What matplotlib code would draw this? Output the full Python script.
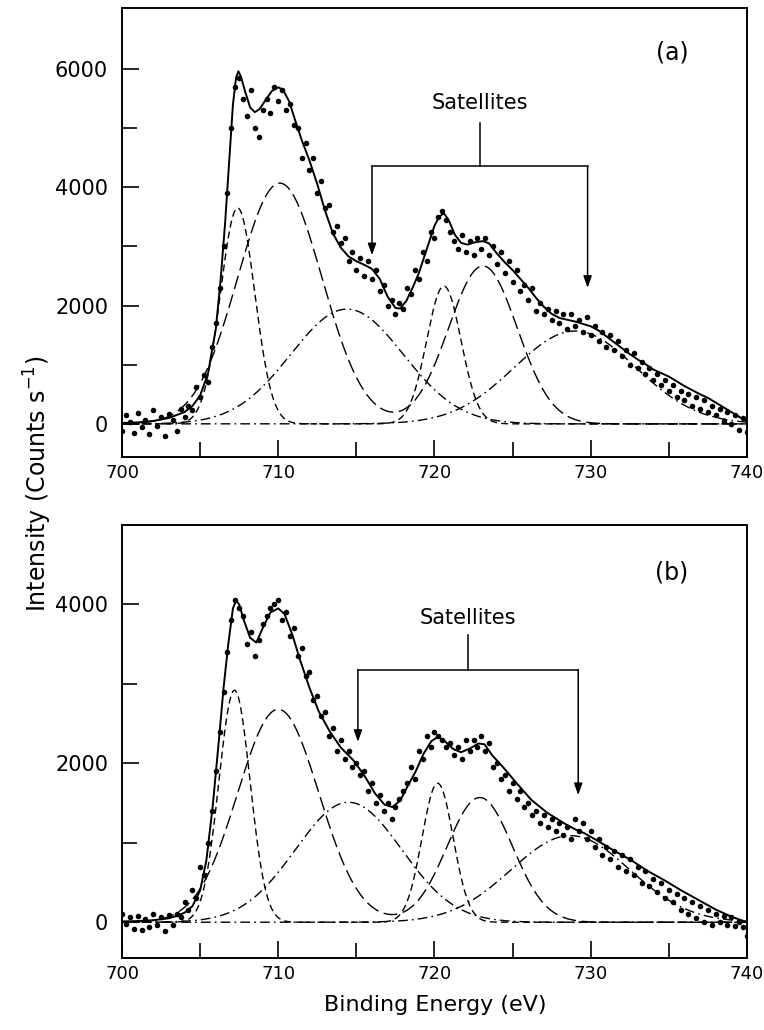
#!/usr/bin/env python
# -*- coding: utf-8 -*-

import numpy as np
import matplotlib
matplotlib.use('Agg')
import matplotlib.pyplot as plt

plt.rcParams['font.family'] = ['DejaVu Sans']

# Measured points: 0.25 eV steps from 700 to 740 eV
E_START, E_STEP = 700.0, 0.25

DOTS_A = [
    -120, 150, 40, -150, 180, -60, 60, -170, 230, -30, 110, -200, 170, 60, -120, 260,
    120, 300, 230, 620, 450, 820, 700, 1300, 1700, 2300, 3000, 3900, 5000, 5700, 5850, 5500,
    5200, 5650, 5000, 4850, 5300, 5500, 5250, 5700, 5450, 5650, 5300, 5400, 5050, 5000, 4500, 4750,
    4300, 4500, 3900, 4100, 3650, 3700, 3250, 3350, 3050, 3150, 2750, 2900, 2600, 2800, 2500, 2750,
    2450, 2600, 2250, 2350, 2000, 2100, 1850, 2050, 1950, 2300, 2200, 2600, 2450, 2900, 2750, 3250,
    3150, 3500, 3600, 3450, 3250, 3100, 2950, 3200, 2900, 3100, 2850, 3150, 2950, 3150, 2850, 3000,
    2700, 2900, 2550, 2750, 2400, 2600, 2250, 2350, 2100, 2300, 1900, 2050, 1850, 1950, 1750, 1900,
    1700, 1850, 1600, 1850, 1650, 1750, 1550, 1800, 1500, 1650, 1400, 1550, 1300, 1500, 1250, 1400,
    1150, 1250, 1000, 1200, 950, 1050, 850, 950, 750, 850, 650, 750, 550, 650, 450, 550,
    400, 500, 300, 450, 250, 400, 200, 300, 150, 250, 50, 200, 0, 150, -100, 100,
    -130,
]

DOTS_B = [
    100, -20, 60, -80, 80, -100, 40, -60, 100, -40, 60, -110, 90, -30, 110, 60,
    250, 150, 400, 300, 700, 600, 1000, 1400, 1900, 2400, 2900, 3400, 3800, 4050, 3950, 3850,
    3500, 3650, 3350, 3550, 3750, 3850, 3950, 4000, 4050, 3800, 3900, 3600, 3700, 3350, 3450, 3100,
    3150, 2800, 2850, 2600, 2650, 2350, 2450, 2150, 2300, 2050, 2150, 1950, 2000, 1850, 1900, 1650,
    1750, 1500, 1600, 1400, 1500, 1300, 1450, 1550, 1650, 1750, 1950, 1800, 2150, 2050, 2350, 2200,
    2400, 2350, 2300, 2200, 2250, 2100, 2200, 2050, 2300, 2150, 2300, 2200, 2350, 2150, 2250, 1950,
    2000, 1800, 1850, 1650, 1750, 1550, 1650, 1450, 1500, 1350, 1400, 1250, 1350, 1200, 1300, 1150,
    1250, 1100, 1200, 1050, 1300, 1150, 1250, 1050, 1150, 950, 1050, 850, 950, 800, 900, 700,
    850, 650, 800, 600, 700, 500, 650, 450, 550, 380, 500, 300, 400, 250, 350, 150,
    300, 100, 250, 50, 200, 0, 150, -30, 100, 0, 80, -40, 60, -50, 0, -60,
    -170,
]

# Fitted envelope (solid line), read at the listed energies
FIT_A_E = [700, 701, 702, 703, 703.5, 704, 704.5, 705, 705.5, 706, 706.3, 706.6, 706.9, 707.1,
           707.3, 707.45, 707.6, 707.9, 708.2, 708.5, 708.8, 709.2, 709.6, 710, 710.3, 710.7,
           711, 711.5, 712, 712.5, 713, 713.5, 714, 714.5, 715, 715.5, 716, 716.5, 717, 717.5,
           717.8, 718.2, 718.6, 719, 719.5, 720, 720.3, 720.6, 720.9, 721.3, 721.7, 722.1, 722.6,
           723.1, 723.5, 724, 724.5, 725, 725.5, 726, 726.5, 727, 727.5, 728, 728.5, 729, 729.5,
           730, 730.5, 731, 731.5, 732, 732.5, 733, 733.5, 734, 734.5, 735, 736, 737, 737.5,
           738, 739, 740]
FIT_A_I = [15, 25, 50, 100, 150, 200, 300, 480, 850, 1600, 2400, 3400, 4600, 5400,
           5850, 5960, 5880, 5600, 5350, 5270, 5320, 5480, 5630, 5690, 5650, 5450,
           5200, 4800, 4450, 4050, 3600, 3220, 2980, 2830, 2750, 2690, 2620, 2450, 2150, 1960,
           1950, 2080, 2300, 2550, 2950, 3350, 3500, 3560, 3450, 3200, 3060, 3030, 3070,
           3090, 3050, 2880, 2730, 2600, 2450, 2300, 2130, 1980, 1860, 1790, 1760, 1730, 1690,
           1650, 1580, 1480, 1380, 1280, 1180, 1090, 1010, 920, 860, 800, 640, 500, 440,
           360, 200, 40]

FIT_B_E = [700, 701, 702, 703, 703.5, 704, 704.5, 705, 705.4, 705.8, 706.2, 706.5, 706.8, 707.1,
           707.3, 707.5, 707.8, 708.2, 708.6, 709, 709.5, 710, 710.4, 710.9, 711.4, 712, 712.6,
           713.3, 714, 714.8, 715.5, 716.2, 716.8, 717.3, 717.8, 718.3, 718.8, 719.3, 719.8,
           720.2, 720.6, 721.2, 721.7, 722.3, 722.8, 723.2, 723.7, 724.4, 725.3, 726.2, 727.2,
           728.3, 729, 729.6, 730.4, 731.5, 732.6, 733.6, 734.7, 735.8, 736.9, 738, 739, 740]
FIT_B_I = [10, 15, 25, 50, 80, 120, 200, 400, 780, 1450, 2290, 2950, 3500, 3950,
           4050, 4000, 3800, 3580, 3520, 3700, 3900, 3950, 3880, 3620, 3300, 2950, 2650,
           2400, 2200, 2040, 1850, 1620, 1480, 1450, 1530, 1720, 1900, 2120, 2280,
           2330, 2290, 2180, 2140, 2190, 2250, 2240, 2100, 1950, 1740, 1540, 1380,
           1245, 1170, 1120, 1030, 900, 780, 650, 530, 400, 280, 160, 70, 0]

# Component peaks: (centre eV, height, gaussian sigma eV)
SHORT_A = [(707.4, 3650, 1.1), (720.6, 2330, 1.1)]
LONG_A = [(710.1, 4070, 2.7), (723.1, 2670, 2.2)]
SAT_A = [(714.4, 1940, 3.6), (729.0, 1570, 3.9)]

SHORT_B = [(707.2, 2920, 1.0), (720.2, 1750, 1.0)]
LONG_B = [(710.0, 2680, 2.6), (722.9, 1570, 2.1)]
SAT_B = [(714.5, 1510, 3.4), (728.7, 1090, 3.8)]

# Satellite bracket: label y, stem top, bar y, left (eV, tip), right (eV, tip)
BRACKET_A = dict(text_y=5420, stem_top=5080, bar_y=4360, left=(716.0, 2850), right=(729.8, 2300))
BRACKET_B = dict(text_y=3830, stem_top=3610, bar_y=3180, left=(715.1, 2270), right=(729.2, 1600))


def gauss(x, centre, height, sigma):
    return height * np.exp(-(x - centre) ** 2 / (2 * sigma ** 2))


def draw_panel(ax, dots, fit_e, fit_i, short, long_, sat, bracket, letter, letter_y, ylim, yticks):
    energy = E_START + E_STEP * np.arange(len(dots))
    grid = np.linspace(700, 740, 801)

    ax.plot(grid, sum(gauss(grid, *p) for p in short), color='k', lw=1.0,
            linestyle=(0, (5, 3)))
    ax.plot(grid, sum(gauss(grid, *p) for p in long_), color='k', lw=1.0,
            linestyle=(0, (10, 4)))
    for p in sat:
        ax.plot(grid, gauss(grid, *p), color='k', lw=1.0, linestyle=(0, (7, 3, 1.2, 3)))

    ax.plot(fit_e, fit_i, color='k', lw=1.4)
    ax.plot(energy, dots, 'o', color='k', ms=4.0, mec='none')

    # satellites bracket
    xl, tl = bracket['left']
    xr, tr = bracket['right']
    xm = 0.5 * (xl + xr)
    ax.plot([xl, xr], [bracket['bar_y'], bracket['bar_y']], color='k', lw=1.1)
    ax.plot([xm, xm], [bracket['bar_y'], bracket['stem_top']], color='k', lw=1.1)
    for x, tip in ((xl, tl), (xr, tr)):
        ax.annotate('', xy=(x, tip), xytext=(x, bracket['bar_y']),
                    arrowprops=dict(arrowstyle='-|>,head_length=0.7,head_width=0.25',
                                    color='k', lw=1.1, shrinkA=0, shrinkB=0))
    ax.text(xm, bracket['text_y'], 'Satellites', ha='center', va='center', fontsize=15)
    ax.text(735.2, letter_y, letter, ha='center', va='center', fontsize=17)

    ax.set_xlim(700, 740)
    ax.set_ylim(*ylim)
    ax.set_xticks([700, 710, 720, 730, 740])
    ax.set_xticks([705, 715, 725, 735], minor=True)
    ax.set_yticks(yticks)
    ax.set_yticks([1000, 3000, 5000] if max(yticks) > 4000 else [1000, 3000], minor=True)
    ax.tick_params(which='both', direction='in', top=False, right=False, width=1.2)
    ax.tick_params(which='major', length=12)
    ax.tick_params(which='minor', length=11)
    ax.tick_params(axis='y', pad=10, labelsize=15)
    ax.tick_params(axis='x', pad=5, labelsize=13)
    for spine in ax.spines.values():
        spine.set_linewidth(1.4)


fig = plt.figure(figsize=(7.64, 10.30), dpi=100)
ax_a = fig.add_axes([0.1597, 0.5563, 0.818, 0.4359])
ax_b = fig.add_axes([0.1597, 0.0699, 0.818, 0.4204])

draw_panel(ax_a, DOTS_A, FIT_A_E, FIT_A_I, SHORT_A, LONG_A, SAT_A, BRACKET_A,
           '(a)', 6280, (-560, 7030), [0, 2000, 4000, 6000])
draw_panel(ax_b, DOTS_B, FIT_B_E, FIT_B_I, SHORT_B, LONG_B, SAT_B, BRACKET_B,
           '(b)', 4400, (-450, 5000), [0, 2000, 4000])

fig.text(0.05, 0.53, 'Intensity (Counts s$^{-1}$)', rotation=90, ha='center', va='center',
         fontsize=17)
fig.text(0.57, 0.024, 'Binding Energy (eV)', ha='center', va='center', fontsize=16)

fig.savefig('out.png', dpi=100)
